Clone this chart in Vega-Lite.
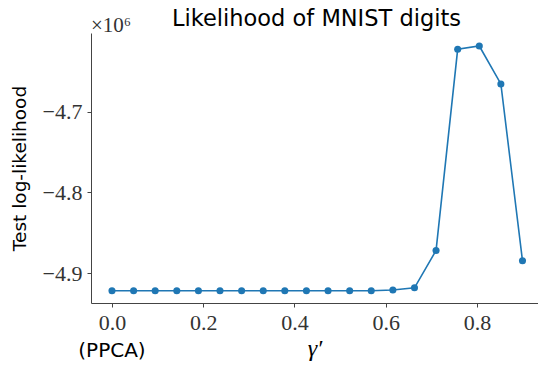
{
  "$schema": "https://vega.github.io/schema/vega-lite/v6.json",
  "autosize": "none",
  "width": 447,
  "height": 270,
  "padding": {"left": 91, "top": 33, "right": 0, "bottom": 62},
  "background": "white",
  "title": {"text": "Likelihood of MNIST digits", "font": "DejaVu Sans", "fontSize": 22.5, "fontWeight": "normal", "color": "#000", "frame": "group", "offset": 6, "anchor": "middle", "dx": 2, "dy": 21},
  "config": {"view": {"stroke": null}},
  "datasets": {
    "pts": [
      {"gamma": 0.0, "ll": -4922000},
      {"gamma": 0.0474, "ll": -4922000},
      {"gamma": 0.0947, "ll": -4922000},
      {"gamma": 0.1421, "ll": -4922000},
      {"gamma": 0.1895, "ll": -4922000},
      {"gamma": 0.2368, "ll": -4922000},
      {"gamma": 0.2842, "ll": -4922000},
      {"gamma": 0.3316, "ll": -4922000},
      {"gamma": 0.3789, "ll": -4922000},
      {"gamma": 0.4263, "ll": -4922000},
      {"gamma": 0.4737, "ll": -4922000},
      {"gamma": 0.5211, "ll": -4922000},
      {"gamma": 0.5684, "ll": -4922000},
      {"gamma": 0.6158, "ll": -4921000},
      {"gamma": 0.6632, "ll": -4918300},
      {"gamma": 0.7105, "ll": -4872000},
      {"gamma": 0.7579, "ll": -4622800},
      {"gamma": 0.8053, "ll": -4618700},
      {"gamma": 0.8526, "ll": -4665700},
      {"gamma": 0.9, "ll": -4884800}
    ],
    "notes": [
      {"label": "×10⁶", "gamma": -0.046, "ll": -4602600},
      {"label": "(PPCA)", "gamma": 0.0, "ll": -4937100}
    ]
  },
  "layer": [
    {
      "data": {"name": "pts"},
      "mark": {"type": "line", "color": "#1f77b4", "strokeWidth": 1.6, "point": {"filled": true, "color": "#1f77b4", "size": 50, "opacity": 1}},
      "encoding": {
        "x": {
          "field": "gamma", "type": "quantitative",
          "scale": {"domain": [-0.046, 0.934], "nice": false, "zero": false},
          "axis": {
            "title": "γ′", "titleFont": "Liberation Serif", "titleFontStyle": "italic", "titleFontWeight": "normal", "titleFontSize": 24, "titleColor": "#000", "titlePadding": 3,
            "values": [0, 0.2, 0.4, 0.6, 0.8], "format": ".1f",
            "labelFont": "Liberation Serif", "labelFontSize": 22, "labelColor": "#333", "labelPadding": 5,
            "grid": false, "domainColor": "#444", "domainWidth": 1, "tickColor": "#444", "tickSize": 4, "tickWidth": 1
          }
        },
        "y": {
          "field": "ll", "type": "quantitative",
          "scale": {"domain": [-4937100, -4602600], "nice": false, "zero": false},
          "axis": {
            "title": "Test log-likelihood", "titleFont": "DejaVu Sans", "titleFontWeight": "normal", "titleFontSize": 18.5, "titleColor": "#000", "titlePadding": 13,
            "values": [-4900000, -4800000, -4700000],
            "labelExpr": "replace(format(datum.value/1000000, '.1f'), '-', '−')",
            "labelFont": "Liberation Serif", "labelFontSize": 22, "labelColor": "#333", "labelPadding": 5,
            "grid": false, "domainColor": "#444", "domainWidth": 1, "tickColor": "#444", "tickSize": 4, "tickWidth": 1
          }
        }
      }
    },
    {
      "mark": {"type": "rule", "color": "#444", "strokeWidth": 1},
      "encoding": {"y": {"datum": -4602600}}
    },
    {
      "data": {"name": "notes"},
      "transform": [{"filter": "datum.label == '×10⁶'"}],
      "mark": {"type": "text", "font": "Liberation Serif", "fontSize": 21, "color": "#333", "align": "left", "baseline": "alphabetic", "dy": -1},
      "encoding": {"x": {"field": "gamma", "type": "quantitative"}, "y": {"field": "ll", "type": "quantitative"}, "text": {"field": "label"}}
    },
    {
      "data": {"name": "notes"},
      "transform": [{"filter": "datum.label == '(PPCA)'"}],
      "mark": {"type": "text", "font": "DejaVu Sans", "fontSize": 20, "color": "#000", "align": "center", "baseline": "middle", "dy": 48},
      "encoding": {"x": {"field": "gamma", "type": "quantitative"}, "y": {"field": "ll", "type": "quantitative"}, "text": {"field": "label"}}
    }
  ]
}
